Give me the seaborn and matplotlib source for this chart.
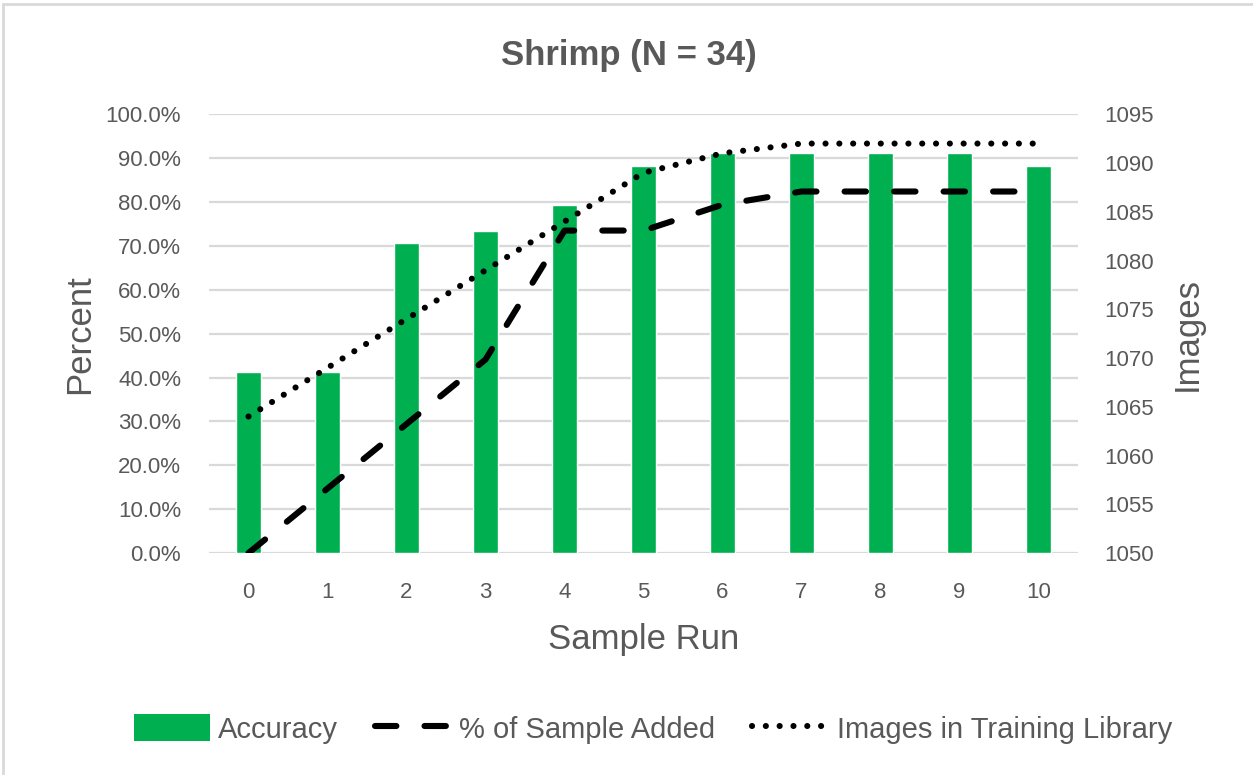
import matplotlib
matplotlib.use("Agg")
import matplotlib.pyplot as plt
import seaborn as sns
import numpy as np
import pandas as pd
from matplotlib.patches import Patch
from matplotlib.lines import Line2D
from matplotlib.ticker import FuncFormatter, MultipleLocator

# ---- data ----
sample_runs = [0, 1, 2, 3, 4, 5, 6, 7, 8, 9, 10]
accuracy = [41.2, 41.2, 70.6, 73.5, 79.4, 88.2, 91.2, 91.2, 91.2, 91.2, 88.2]
pct_sample_added = [0.0, 14.7, 29.4, 44.1, 73.5, 73.5, 79.4, 82.4, 82.4, 82.4, 82.4]
images_in_library = [1064, 1069, 1074, 1079, 1084, 1089, 1091, 1092, 1092, 1092, 1092]

title = "Shrimp (N = 34)"
xlabel = "Sample Run"
ylabel_left = "Percent"
ylabel_right = "Images"
legend_labels = ["Accuracy", "% of Sample Added", "Images in Training Library"]

GREEN = "#00B050"
TXT = "#595959"
GRID = "#D9D9D9"
LW = 4.4
DASH = (3.5, 4.6)
DOT = (0.01, 2.25)

sns.set_theme(style="white")
plt.rcParams["font.family"] = ["Liberation Sans", "DejaVu Sans"]

df = pd.DataFrame({"run": sample_runs, "acc": accuracy,
                   "added": pct_sample_added, "images": images_in_library})

fig = plt.figure(figsize=(12.53, 7.75), dpi=100)
ax = fig.add_axes([209/1253, 1 - 553/775, (1078-209)/1253, (553-114.3)/775])

sns.barplot(data=df, x="run", y="acc", color=GREEN, width=0.31, ax=ax,
            saturation=1, zorder=2)
sns.lineplot(x=np.arange(len(sample_runs)), y=pct_sample_added, ax=ax,
             color="black", lw=LW, zorder=3)
ax.lines[-1].set_dashes(DASH)
ax.lines[-1].set_dash_capstyle("round")

ax.set_xlim(-0.5, 10.5)
ax.set_ylim(0, 100)
ax.yaxis.set_major_locator(MultipleLocator(10))
ax.yaxis.set_major_formatter(FuncFormatter(lambda v, p: f"{v:.1f}%"))
ax.grid(axis="y", color=GRID, lw=1.6, zorder=0)
ax.set_axisbelow(True)
for s in ax.spines.values():
    s.set_visible(False)
ax.tick_params(axis="both", length=0, labelsize=16, colors=TXT)
ax.tick_params(axis="y", pad=20)
ax.tick_params(axis="x", pad=21)
ax.set_xlabel(xlabel, fontsize=25, color=TXT, labelpad=14)
ax.set_ylabel(ylabel_left, fontsize=25, color=TXT, labelpad=7)

ax2 = ax.twinx()
sns.lineplot(x=np.arange(len(sample_runs)), y=images_in_library, ax=ax2,
             color="black", lw=LW, zorder=3)
ax2.lines[-1].set_dashes(DOT)
ax2.lines[-1].set_dash_capstyle("round")
ax2.set_ylim(1050, 1095)
ax2.yaxis.set_major_locator(MultipleLocator(5))
for s in ax2.spines.values():
    s.set_visible(False)
ax2.tick_params(axis="y", length=0, labelsize=16, colors=TXT, pad=19)
ax2.set_ylabel(ylabel_right, fontsize=25, color=TXT, labelpad=12)
ax2.grid(False)

fig.suptitle(title, x=0.502, y=1 - 55/775, va="center", fontsize=25,
             fontweight="bold", color=TXT)

handles = [Patch(facecolor=GREEN, edgecolor="none"),
           Line2D([], [], color="black", lw=LW, dashes=DASH, dash_capstyle="round"),
           Line2D([], [], color="black", lw=LW, dashes=DOT, dash_capstyle="round")]
leg = fig.legend(handles, legend_labels, loc="center", bbox_to_anchor=(0.521, 1 - 729/775),
                 ncol=3, frameon=False, handlelength=2.6, handleheight=1.0,
                 columnspacing=1.25, handletextpad=0.3,
                 prop={"size": 21})
for t in leg.get_texts():
    t.set_color(TXT)

fig.add_artist(Line2D([3/1253, 3/1253], [0, 1 - 4/775], color="#D9D9D9", lw=2, transform=fig.transFigure))
fig.add_artist(Line2D([3/1253, 1], [1 - 4/775, 1 - 4/775], color="#D9D9D9", lw=2, transform=fig.transFigure))

fig.savefig("out.png", dpi=100, facecolor="white")
